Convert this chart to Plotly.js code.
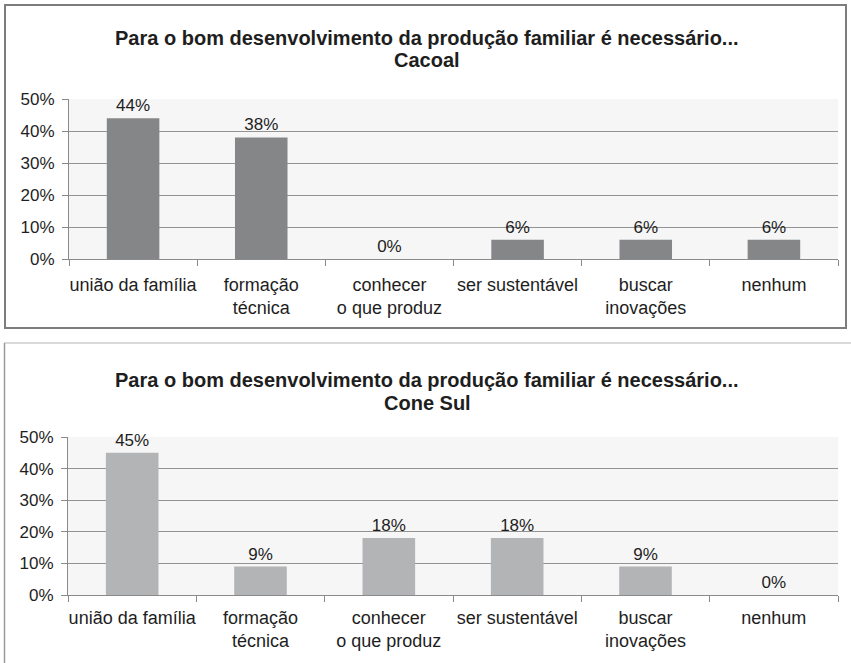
<!DOCTYPE html>
<html>
<head>
<meta charset="utf-8">
<script src="https://cdn.plot.ly/plotly-3.0.1.min.js"></script>
<style>html,body{margin:0;padding:0;background:#fff;}#chart{width:851px;height:663px;}</style>
</head>
<body>
<div id="chart"></div>
<script>
const categories = ["união da família", "formação técnica", "conhecer o que produz", "ser sustentável", "buscar inovações", "nenhum"];
const categoryLabels = ["união da família", "formação<br>técnica", "conhecer<br>o que produz", "ser sustentável", "buscar<br>inovações", "nenhum"];
const cacoalValues = [0.44, 0.38, 0, 0.06, 0.06, 0.06];
const coneSulValues = [0.45, 0.09, 0.18, 0.18, 0.09, 0];
const yTickVals = [0, 0.1, 0.2, 0.3, 0.4, 0.5];
const yTickText = ["0%", "10%", "20%", "30%", "40%", "50%"];
const titleMain = "Para o bom desenvolvimento da produção familiar é necessário...";
const panelNames = ["Cacoal", "Cone Sul"];

const W = 851, H = 663;
const px = v => v / W;
const py = v => (H - v) / H;
const FONT = "Liberation Sans, Arial, sans-serif";
const textColor = "#1e1e1e";

function barTrace(values, color, xa, ya) {
  return {
    type: "bar", x: categories, y: values, xaxis: xa, yaxis: ya,
    marker: {color: color, line: {width: 0}},
    texttemplate: "%{y:.0%}", textposition: "outside", cliponaxis: false,
    constraintext: "none",
    textfont: {family: FONT, size: 17, color: textColor},
    hoverinfo: "skip", showlegend: false
  };
}

function xAxis(domain, anchor, standoff) {
  return {
    domain: domain, anchor: anchor, type: "category",
    tickvals: categories, ticktext: categoryLabels, tickangle: 0,
    tickson: "boundaries", ticks: "outside", ticklen: 6, tickcolor: "#8a8a8a",
    ticklabelstandoff: standoff,
    showline: true, linecolor: "#8a8a8a", linewidth: 1,
    showgrid: false, zeroline: false, fixedrange: true,
    tickfont: {family: FONT, size: 18, color: textColor}
  };
}
function yAxis(domain, anchor) {
  return {
    domain: domain, anchor: anchor, range: [0, 0.5],
    tickvals: yTickVals, ticktext: yTickText,
    ticks: "outside", ticklen: 6, tickcolor: "#8a8a8a", ticklabelstandoff: 4,
    showline: true, linecolor: "#8a8a8a", linewidth: 1,
    showgrid: true, gridcolor: "#939393", gridwidth: 1,
    zeroline: false, fixedrange: true,
    tickfont: {family: FONT, size: 17, color: textColor}
  };
}

const data = [
  barTrace(cacoalValues, "#858688", "x", "y"),
  barTrace(coneSulValues, "#b3b4b6", "x2", "y2")
];

const titleFont = {family: FONT, size: 20, color: textColor};
function titleAnn(text, yPix) {
  return {xref: "paper", yref: "paper", x: px(427), y: py(yPix), xanchor: "center", yanchor: "middle",
          text: "<b>" + text + "</b>", showarrow: false, font: titleFont};
}

const layout = {
  width: W, height: H,
  margin: {l: 0, r: 0, t: 0, b: 0},
  paper_bgcolor: "#ffffff",
  bargap: 0.59,
  xaxis: xAxis([px(69), px(838)], "y", 9),
  yaxis: yAxis([py(259), py(99)], "x"),
  xaxis2: xAxis([px(68), px(838)], "y2", 6),
  yaxis2: yAxis([py(595), py(437)], "x2"),
  annotations: [
    titleAnn(titleMain, 38), titleAnn(panelNames[0], 60),
    titleAnn(titleMain, 380), titleAnn(panelNames[1], 403)
  ],
  shapes: [
    {type: "rect", xref: "paper", yref: "paper", x0: px(69), x1: px(838), y0: py(259), y1: py(99),
     fillcolor: "#f6f6f6", line: {width: 0}, layer: "below"},
    {type: "rect", xref: "paper", yref: "paper", x0: px(68), x1: px(838), y0: py(595), y1: py(437),
     fillcolor: "#f6f6f6", line: {width: 0}, layer: "below"},
    {type: "rect", xref: "paper", yref: "paper", x0: px(5), x1: px(846), y0: py(328), y1: py(5),
     line: {color: "#7d7d7d", width: 2}},
    {type: "line", xref: "paper", yref: "paper", x0: px(4), x1: px(851), y0: py(343), y1: py(343),
     line: {color: "#b5b5b5", width: 1}},
    {type: "line", xref: "paper", yref: "paper", x0: px(4.5), x1: px(4.5), y0: py(343), y1: py(663),
     line: {color: "#9a9a9a", width: 1.5}}
  ]
};

Plotly.newPlot("chart", data, layout, {staticPlot: true, displayModeBar: false});
</script>
</body>
</html>
